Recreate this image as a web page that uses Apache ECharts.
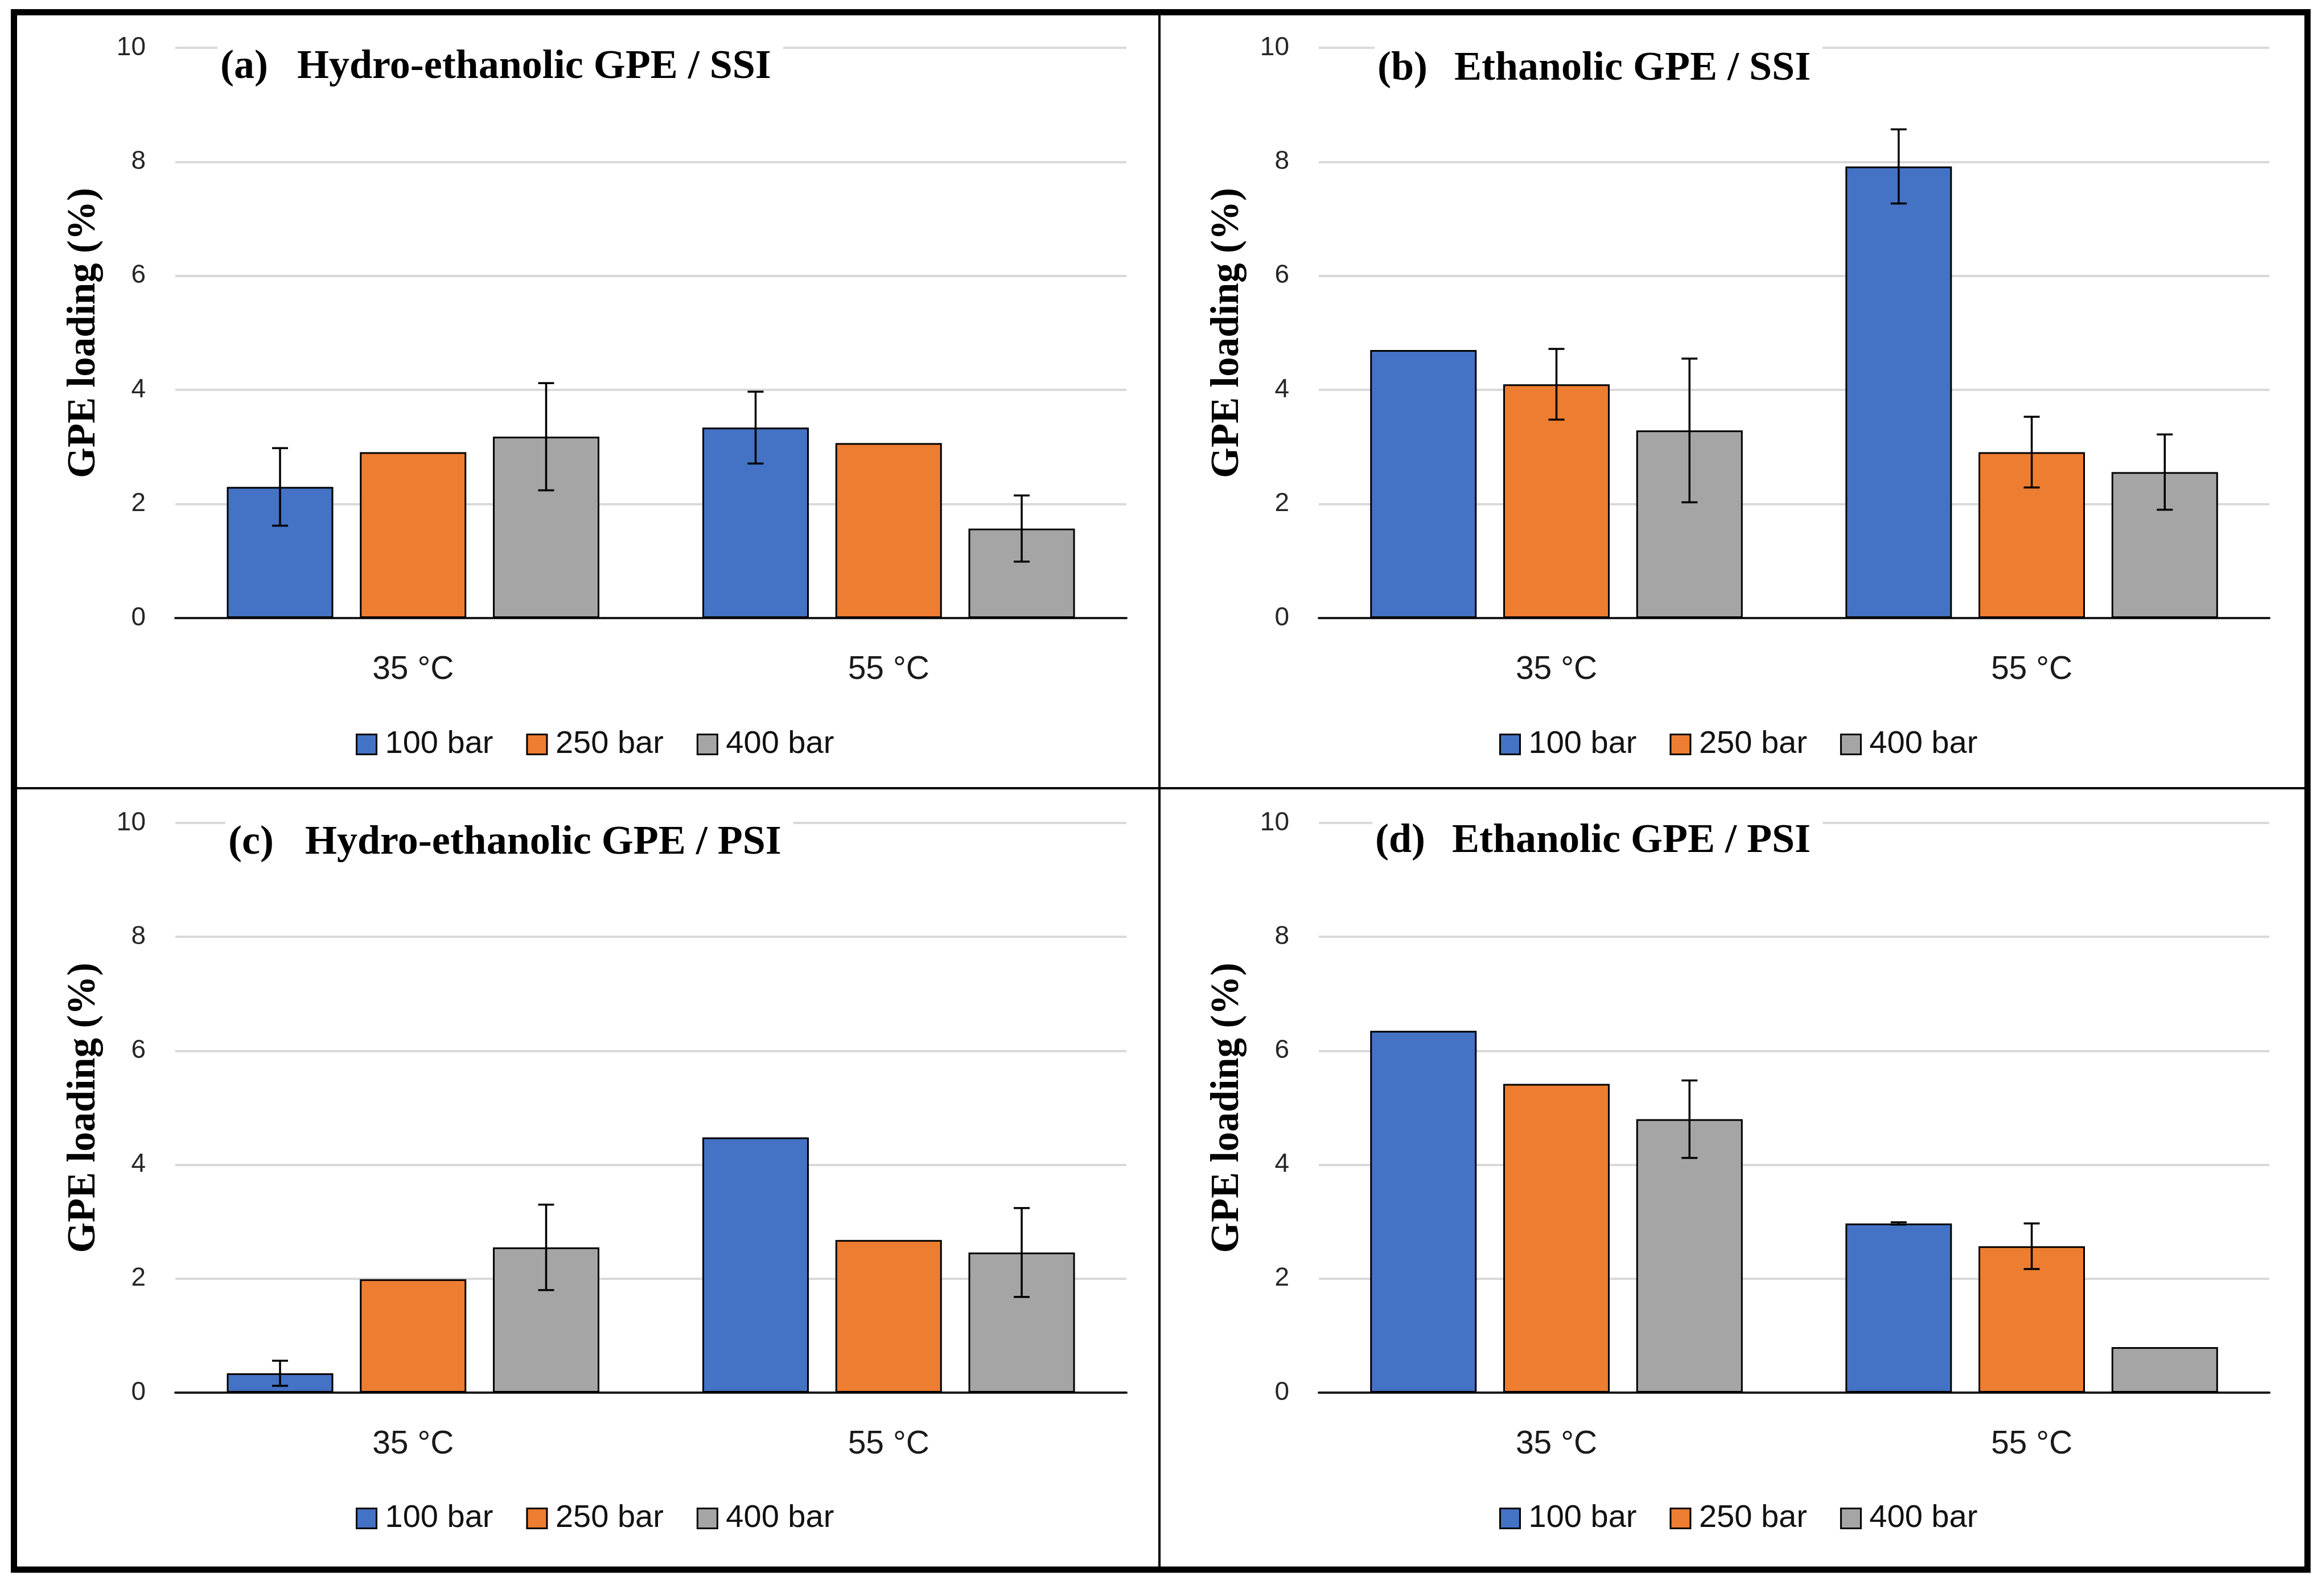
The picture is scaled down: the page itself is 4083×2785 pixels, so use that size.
<!DOCTYPE html>
<html>
<head>
<meta charset="utf-8">
<script src="https://cdn.jsdelivr.net/npm/echarts@6/dist/echarts.min.js"></script>
<style>html,body{margin:0;padding:0;background:#fff;}#c{width:4083px;height:2785px;}</style>
</head>
<body>
<div id="c"></div>
<script>
// ---------- data ----------
const categories = ['35 °C', '55 °C'];
const seriesNames = ['100 bar', '250 bar', '400 bar'];
const yTicks = [0, 2, 4, 6, 8, 10];
const panelLabels = ['(a)', '(b)', '(c)', '(d)'];
const panelTitles = ['Hydro-ethanolic GPE / SSI', 'Ethanolic GPE / SSI', 'Hydro-ethanolic GPE / PSI', 'Ethanolic GPE / PSI'];
const yAxisTitle = 'GPE loading (%)';

// panel (a) Hydro-ethanolic GPE / SSI
const a100 = [2.30, 3.34];
const a250 = [2.91, 3.07];
const a400 = [3.18, 1.57];
const aErr100 = [0.68, 0.63];
const aErr250 = [null, null];
const aErr400 = [0.94, 0.58];
// panel (b) Ethanolic GPE / SSI
const b100 = [4.70, 7.92];
const b250 = [4.10, 2.91];
const b400 = [3.29, 2.56];
const bErr100 = [null, 0.65];
const bErr250 = [0.62, 0.62];
const bErr400 = [1.26, 0.66];
// panel (c) Hydro-ethanolic GPE / PSI
const c100 = [0.34, 4.48];
const c250 = [1.99, 2.68];
const c400 = [2.55, 2.46];
const cErr100 = [0.22, null];
const cErr250 = [null, null];
const cErr400 = [0.75, 0.78];
// panel (d) Ethanolic GPE / PSI
const d100 = [6.35, 2.97];
const d250 = [5.42, 2.57];
const d400 = [4.80, 0.80];
const dErr100 = [null, 0.02];
const dErr250 = [null, 0.40];
const dErr400 = [0.68, null];

const panelValues = [[a100, a250, a400], [b100, b250, b400], [c100, c250, c400], [d100, d250, d400]];
const panelErrors = [[aErr100, aErr250, aErr400], [bErr100, bErr250, bErr400], [cErr100, cErr250, cErr400], [dErr100, dErr250, dErr400]];

// ---------- styles / layout ----------
const colors = ['#4472C4', '#ED7D31', '#A5A5A5'];
const grids = [
  {left: 308, top: 84, width: 1671, height: 1002},
  {left: 2317, top: 84, width: 1670, height: 1002},
  {left: 308, top: 1446, width: 1671, height: 1001},
  {left: 2317, top: 1446, width: 1670, height: 1001}
];
const titlePos = [
  {left: 382, top: 74}, {left: 2415, top: 77},
  {left: 396, top: 1437}, {left: 2411, top: 1434}
];
const legendPos = [
  {left: 620, top: 1275}, {left: 2629, top: 1275},
  {left: 620, top: 2635}, {left: 2629, top: 2635}
];
const BAR_W = 187, BAR_GAP = 0.25;
const sansFont = '"Liberation Sans", Arial, sans-serif';
const serifFont = '"Liberation Serif", "Times New Roman", serif';

const option = {
  animation: false,
  backgroundColor: '#ffffff',
  color: colors,
  grid: grids.map(g => Object.assign({containLabel: false}, g)),
  title: panelTitles.map((t, i) => ({
    text: '{l|' + panelLabels[i] + '}{t|' + t + '}',
    left: titlePos[i].left, top: titlePos[i].top,
    backgroundColor: '#ffffff',
    padding: [8, 21, 8, 5],
    z: 20,
    textStyle: {
      rich: {
        l: {fontFamily: serifFont, fontWeight: 'bold', fontSize: 72, color: '#000', width: 135},
        t: {fontFamily: serifFont, fontWeight: 'bold', fontSize: 72, color: '#000'}
      }
    }
  })),
  legend: legendPos.map(p => ({
    data: seriesNames,
    left: p.left, top: p.top,
    orient: 'horizontal',
    icon: 'rect',
    itemWidth: 35, itemHeight: 35, itemGap: 58,
    selectedMode: false,
    itemStyle: {borderColor: '#000', borderWidth: 3},
    textStyle: {fontFamily: sansFont, fontSize: 56, color: '#111', padding: [0, 0, 0, 10]}
  })),
  xAxis: grids.map((g, i) => ({
    type: 'category', gridIndex: i, data: categories,
    axisLine: {show: true, lineStyle: {color: '#1a1a1a', width: 4}},
    axisTick: {show: false},
    axisLabel: {fontFamily: sansFont, fontSize: 57, color: '#1a1a1a', margin: 63},
    splitLine: {show: false}
  })),
  yAxis: grids.map((g, i) => ({
    type: 'value', gridIndex: i, min: yTicks[0], max: yTicks[yTicks.length - 1], interval: yTicks[1] - yTicks[0],
    name: yAxisTitle, nameLocation: 'middle', nameRotate: 90, nameGap: 125,
    nameTextStyle: {fontFamily: serifFont, fontWeight: 'bold', fontSize: 69, color: '#000'},
    axisLine: {show: false}, axisTick: {show: false},
    axisLabel: {fontFamily: sansFont, fontSize: 46, color: '#262626', margin: 52},
    splitLine: {show: true, lineStyle: {color: '#D9D9D9', width: 4}}
  })),
  series: [],
  graphic: [
    {type: 'rect', shape: {x: 24.5, y: 21.5, width: 4029.5, height: 2736.5}, style: {fill: 'none', stroke: '#000', lineWidth: 11}, z: 100},
    {type: 'line', shape: {x1: 2037, y1: 22, x2: 2037, y2: 2758}, style: {stroke: '#000', lineWidth: 4}, z: 100},
    {type: 'line', shape: {x1: 25, y1: 1385, x2: 4054, y2: 1385}, style: {stroke: '#000', lineWidth: 4}, z: 100}
  ]
};

panelValues.forEach((vals, p) => {
  vals.forEach((arr, k) => {
    option.series.push({
      type: 'bar', name: seriesNames[k], xAxisIndex: p, yAxisIndex: p,
      data: arr, barWidth: BAR_W, barGap: (BAR_GAP * 100) + '%',
      itemStyle: {color: colors[k], borderColor: '#000', borderWidth: 3},
      z: 2
    });
  });
  const errData = [];
  panelErrors[p].forEach((errs, k) => {
    errs.forEach((e, c) => {
      if (e !== null && e !== undefined) {
        const v = vals[k][c];
        errData.push([c, v - e, v + e, k]);
      }
    });
  });
  option.series.push({
    type: 'custom', xAxisIndex: p, yAxisIndex: p, z: 10,
    encode: {x: 0, y: [1, 2]},
    data: errData,
    renderItem: function (params, api) {
      const c = api.value(0), lo = api.value(1), hi = api.value(2), k = api.value(3);
      const pLo = api.coord([c, lo]);
      const pHi = api.coord([c, hi]);
      const x = pLo[0] + (k - 1) * BAR_W * (1 + BAR_GAP);
      const cap = 14;
      const st = {stroke: '#000', lineWidth: 3.5};
      return {
        type: 'group',
        children: [
          {type: 'line', shape: {x1: x, y1: pLo[1], x2: x, y2: pHi[1]}, style: st},
          {type: 'line', shape: {x1: x - cap, y1: pLo[1], x2: x + cap, y2: pLo[1]}, style: st},
          {type: 'line', shape: {x1: x - cap, y1: pHi[1], x2: x + cap, y2: pHi[1]}, style: st}
        ]
      };
    }
  });
});

const chart = echarts.init(document.getElementById('c'), null, {renderer: 'canvas'});
chart.setOption(option);
</script>
</body>
</html>
